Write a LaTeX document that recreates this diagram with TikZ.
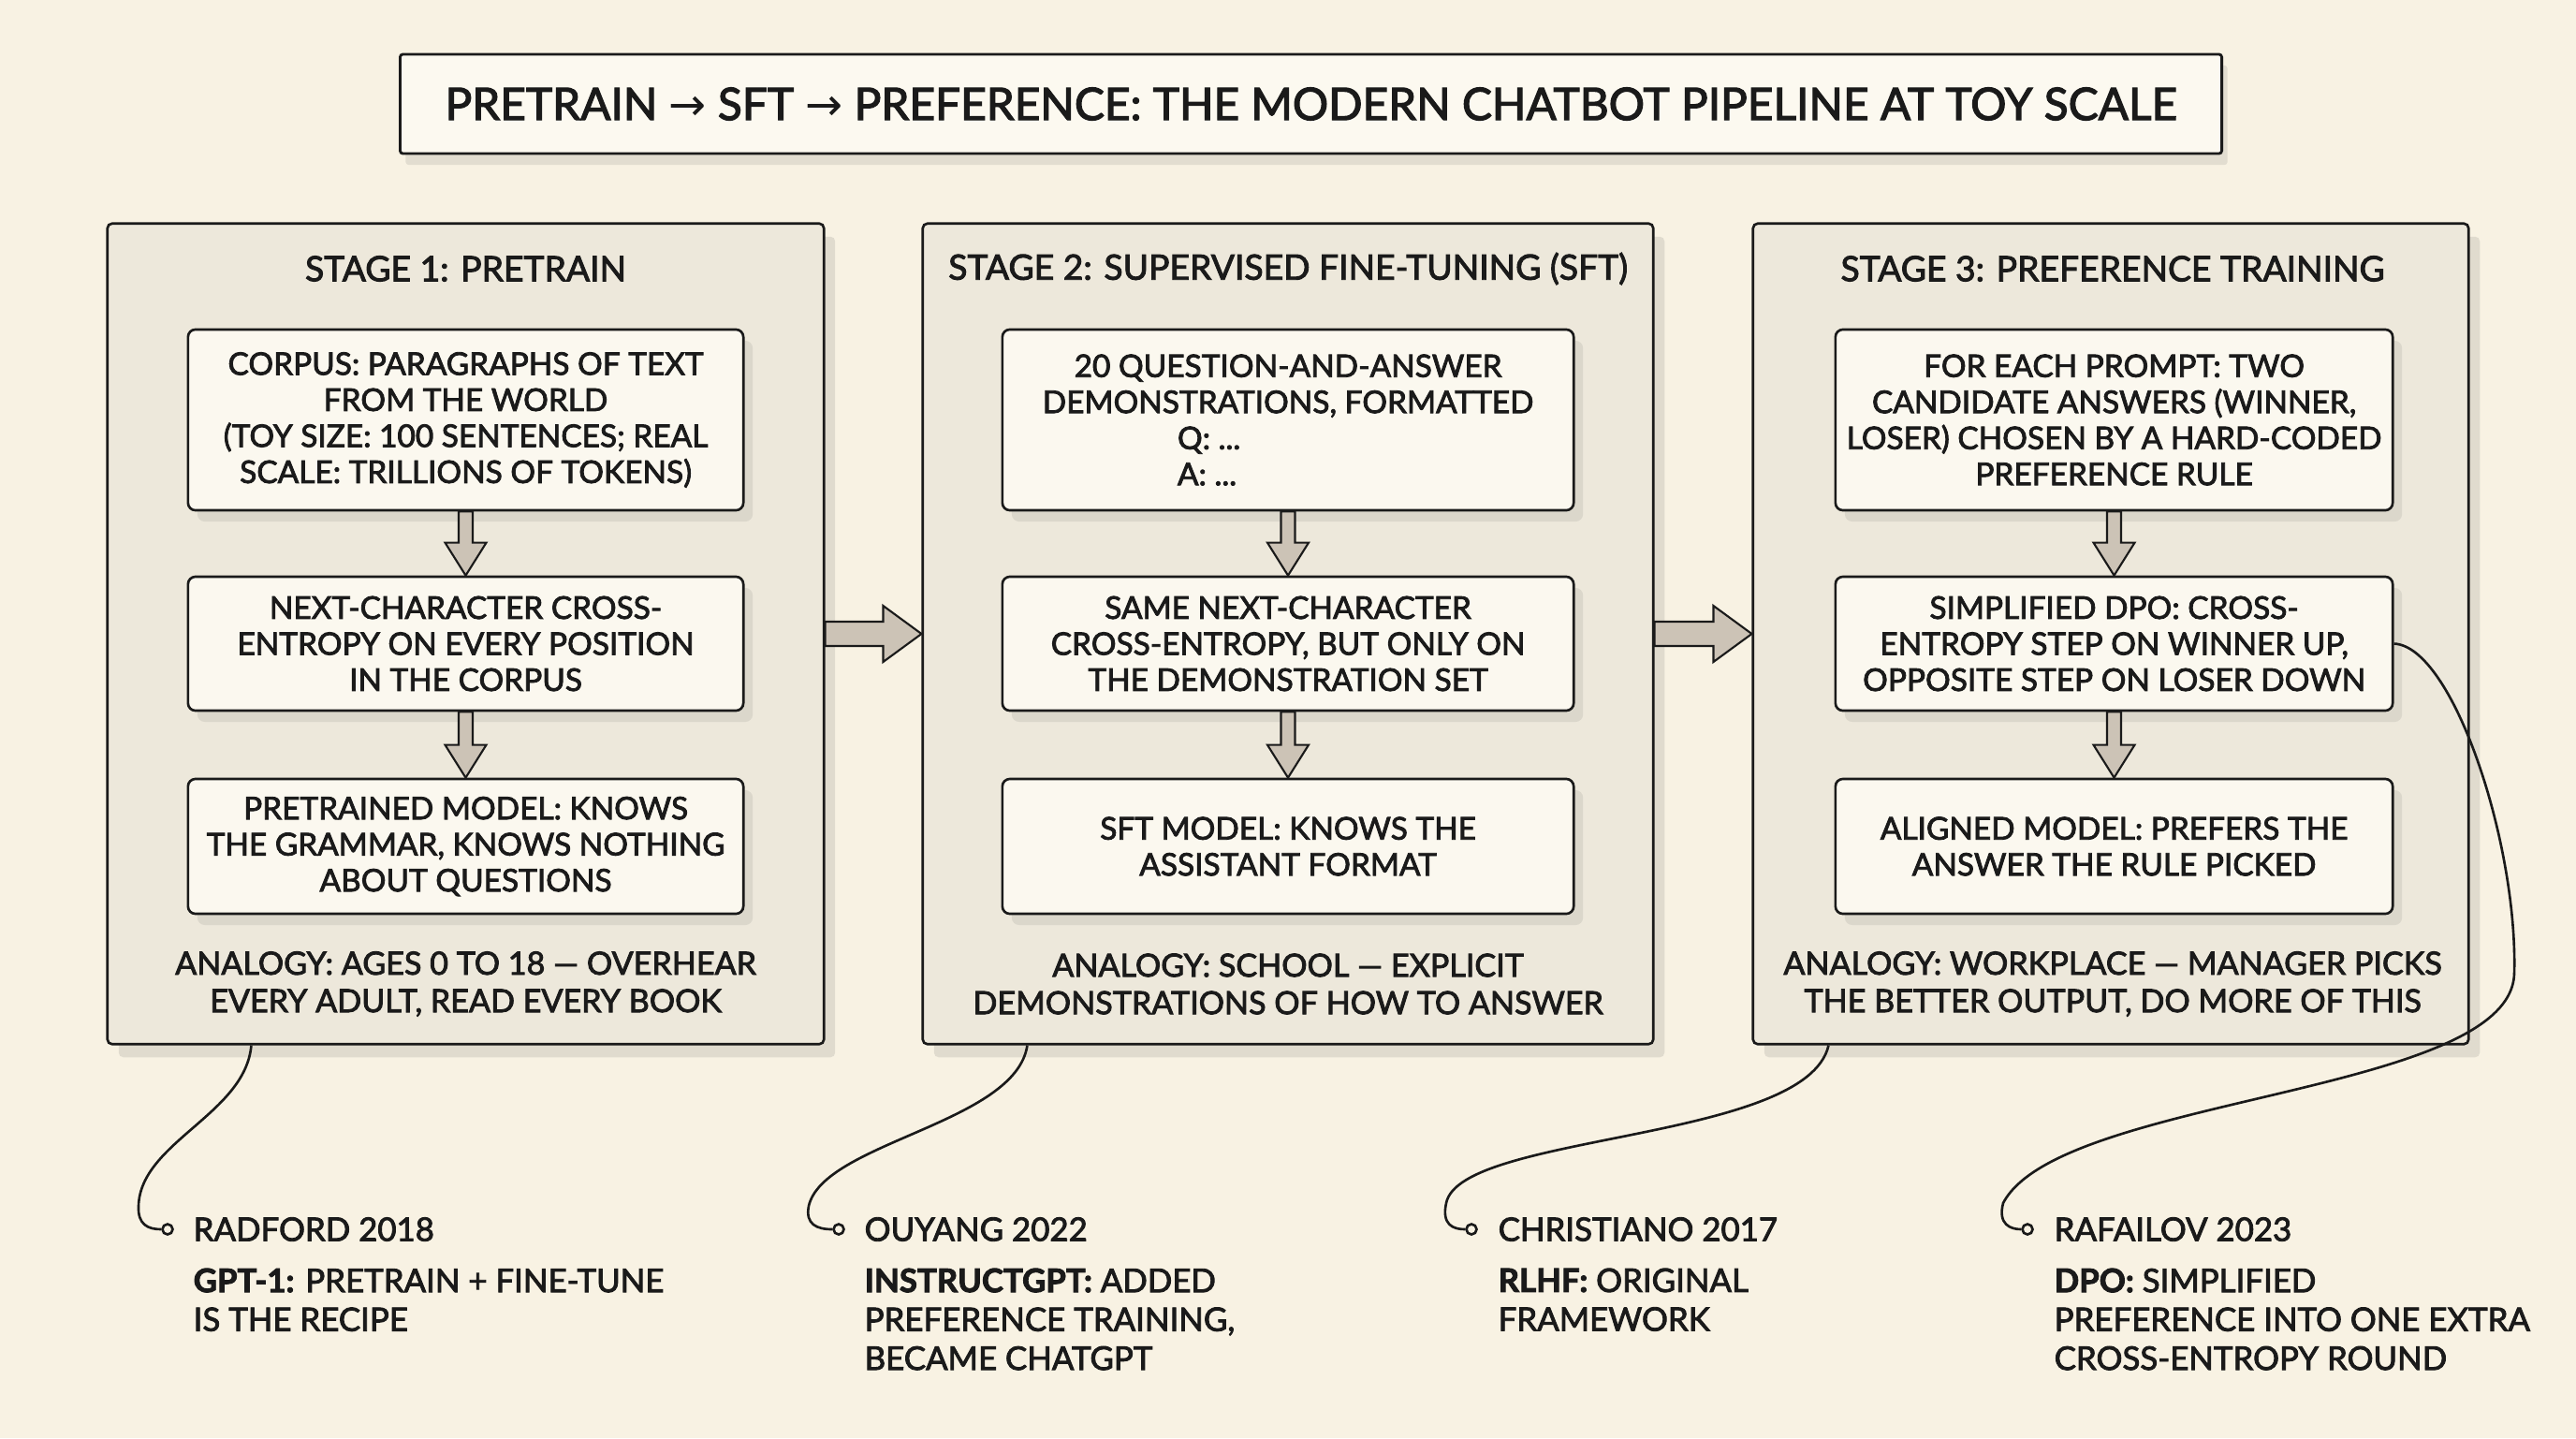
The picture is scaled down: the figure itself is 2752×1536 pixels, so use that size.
\documentclass[tikz,border=0pt]{standalone}
\usepackage{fontspec}
\setmainfont{Lato}[FakeBold=2.5]
\newfontfamily\arrowfnt{DejaVu Sans}
\usetikzlibrary{shadows,calc}
\definecolor{bg}{HTML}{F8F2E3}
\definecolor{panelfill}{HTML}{EDE8DB}
\definecolor{boxfill}{HTML}{FBF8EF}
\definecolor{titlefill}{HTML}{FCF9F0}
\definecolor{arrowfill}{HTML}{CCC3B6}
\definecolor{ink}{HTML}{1A1A1A}
\newcommand\myTitleFnt{\fontsize{13.6}{16}\selectfont}
\newcommand\myStageFnt{\fontsize{10.6}{12}\selectfont}
\newcommand\myBoxFnt{\fontsize{9.5}{10.95}\selectfont}
\newcommand\myAnaFnt{\fontsize{9.7}{11.4}\selectfont}
\newcommand\myCiteFnt{\fontsize{9.9}{11.8}\selectfont}
\newcommand\vblock[2]{\draw[blk] ($(#1.south)+(-7.5,0)$) -- ($(#1.south)+(7.5,0)$) -- ($(#2.north)+(7.5,-35)$) -- ($(#2.north)+(22,-35)$) -- (#2.north) -- ($(#2.north)+(-22,-35)$) -- ($(#2.north)+(-7.5,-35)$) -- cycle;}
\newcommand\hblock[2]{\draw[blk] ($(#1.east)+(0,-13)$) -- ($(#2.west)+(-41,-13)$) -- ($(#2.west)+(-41,-30)$) -- (#2.west) -- ($(#2.west)+(-41,30)$) -- ($(#2.west)+(-41,13)$) -- ($(#1.east)+(0,13)$) -- cycle;}
\begin{document}
\begin{tikzpicture}[x=0.01cm,y=-0.01cm,
  every node/.style={text=ink},
  titlebox/.style={draw=ink,line width=0.8pt,fill=titlefill,rounded corners=0.03cm,inner sep=0,
     minimum width=19.45cm,minimum height=1.06cm,font=\myTitleFnt,
     drop shadow={shadow xshift=0.06cm,shadow yshift=-0.12cm,opacity=0.15,fill=black!60}},
  panel/.style={draw=ink,line width=0.75pt,fill=panelfill,rounded corners=0.05cm,minimum height=8.76cm,inner sep=0,
     drop shadow={shadow xshift=0.12cm,shadow yshift=-0.14cm,opacity=0.16,fill=black!60}},
  ibox/.style={draw=ink,line width=0.75pt,fill=boxfill,rounded corners=0.08cm,inner sep=0,align=center,font=\myBoxFnt,
     drop shadow={shadow xshift=0.1cm,shadow yshift=-0.12cm,opacity=0.13,fill=black!60}},
  stagetitle/.style={inner sep=0,font=\myStageFnt},
  analogy/.style={inner sep=0,align=center,font=\myAnaFnt},
  blk/.style={draw=ink,line width=0.6pt,fill=arrowfill,line join=miter},
  lead/.style={draw=ink,line width=0.75pt},
  dot/.style={circle,draw=ink,line width=0.75pt,fill=bg,inner sep=0,minimum size=0.11cm},
  citehead/.style={inner sep=0,anchor=west,font=\myCiteFnt},
  citetext/.style={inner sep=0,anchor=north west,align=left,font=\myCiteFnt}
]
\useasboundingbox (0,0) rectangle (2752,1536);
\fill[bg] (0,0) rectangle (2752,1536);

% title
\node[titlebox] (title) at (1400.5,111) {PRETRAIN {\arrowfnt →} SFT {\arrowfnt →} PREFERENCE: THE MODERN CHATBOT PIPELINE AT TOY SCALE};

% panels
\node[panel,minimum width=7.65cm] (p1) at (497.5,677) {};
\node[panel,minimum width=7.80cm] (p2) at (1376,677) {};
\node[panel,minimum width=7.64cm] (p3) at (2255,677) {};

\hblock{p1}{p2}
\hblock{p2}{p3}

% stage titles
\node[stagetitle] (s1) at (497.5,287) {STAGE 1: PRETRAIN};
\node[stagetitle] (s2) at (1376,287) {STAGE 2: SUPERVISED FINE-TUNING (SFT)};
\node[stagetitle] (s3) at (2257,287) {STAGE 3: PREFERENCE TRAINING};

% stage 1 boxes
\node[ibox,minimum width=5.93cm,minimum height=1.93cm] (b11) at (497.5,448.5) {CORPUS: PARAGRAPHS OF TEXT\\FROM THE WORLD\\(TOY SIZE: 100 SENTENCES; REAL\\SCALE: TRILLIONS OF TOKENS)};
\node[ibox,minimum width=5.93cm,minimum height=1.43cm] (b12) at (497.5,687.5) {NEXT-CHARACTER CROSS-\\ENTROPY ON EVERY POSITION\\IN THE CORPUS};
\node[ibox,minimum width=5.93cm,minimum height=1.44cm] (b13) at (497.5,904) {PRETRAINED MODEL: KNOWS\\THE GRAMMAR, KNOWS NOTHING\\ABOUT QUESTIONS};
\vblock{b11}{b12}
\vblock{b12}{b13}
\node[analogy] (a1) at (497.5,1051) {ANALOGY: AGES 0 TO 18 — OVERHEAR\\EVERY ADULT, READ EVERY BOOK};

% stage 2 boxes
\node[ibox,minimum width=6.10cm,minimum height=1.93cm] (b21) at (1376,448.5) {20 QUESTION-AND-ANSWER\\DEMONSTRATIONS, FORMATTED\\\makebox[2.36cm][l]{Q: ...}\\\makebox[2.36cm][l]{A: ...}};
\node[ibox,minimum width=6.10cm,minimum height=1.43cm] (b22) at (1376,687.5) {SAME NEXT-CHARACTER\\CROSS-ENTROPY, BUT ONLY ON\\THE DEMONSTRATION SET};
\node[ibox,minimum width=6.10cm,minimum height=1.44cm] (b23) at (1376,904) {SFT MODEL: KNOWS THE\\ASSISTANT FORMAT};
\vblock{b21}{b22}
\vblock{b22}{b23}
\node[analogy] (a2) at (1376,1051) {ANALOGY: SCHOOL — EXPLICIT\\DEMONSTRATIONS OF HOW TO ANSWER};

% stage 3 boxes
\node[ibox,minimum width=5.95cm,minimum height=1.93cm] (b31) at (2258.5,448.5) {FOR EACH PROMPT: TWO\\CANDIDATE ANSWERS (WINNER,\\LOSER) CHOSEN BY A HARD-CODED\\PREFERENCE RULE};
\node[ibox,minimum width=5.95cm,minimum height=1.43cm] (b32) at (2258.5,687.5) {SIMPLIFIED DPO: CROSS-\\ENTROPY STEP ON WINNER UP,\\OPPOSITE STEP ON LOSER DOWN};
\node[ibox,minimum width=5.95cm,minimum height=1.44cm] (b33) at (2258.5,904) {ALIGNED MODEL: PREFERS THE\\ANSWER THE RULE PICKED};
\vblock{b31}{b32}
\vblock{b32}{b33}
\node[analogy] (a3) at (2257,1051) {ANALOGY: WORKPLACE — MANAGER PICKS\\THE BETTER OUTPUT, DO MORE OF THIS};

% citations
\node[dot] (d1) at (179,1313) {};
\node[dot] (d2) at (896,1313) {};
\node[dot] (d3) at (1572,1313) {};
\node[dot] (d4) at (2166,1313) {};

\draw[lead] ($(p1.south west)+(155,0)$) .. controls (262,1190) and (150,1220) .. (148,1288) .. controls (147,1308) and (158,1313) .. (d1.west);
\draw[lead] ($(p2.south west)+(113,0)$) .. controls (1085,1200) and (880,1220) .. (864,1288) .. controls (860,1308) and (873,1313) .. (d2.west);
\draw[lead] ($(p3.south west)+(82,0)$) .. controls (1930,1220) and (1560,1210) .. (1545,1285) .. controls (1540,1308) and (1552,1313) .. (d3.west);
\draw[lead] (b32.east) .. controls (2620,690) and (2690,900) .. (2686,1040) .. controls (2682,1170) and (2200,1170) .. (2140,1285) .. controls (2134,1308) and (2148,1313) .. (d4.west);

\node[citehead] (h1) at (206,1313) {RADFORD 2018};
\node[citetext] (t1) at (206,1354) {\textbf{GPT-1:} PRETRAIN + FINE-TUNE\\IS THE RECIPE};
\node[citehead] (h2) at (923,1313) {OUYANG 2022};
\node[citetext] (t2) at (923,1354) {\textbf{INSTRUCTGPT:} ADDED\\PREFERENCE TRAINING,\\BECAME CHATGPT};
\node[citehead] (h3) at (1600,1313) {CHRISTIANO 2017};
\node[citetext] (t3) at (1600,1354) {\textbf{RLHF:} ORIGINAL\\FRAMEWORK};
\node[citehead] (h4) at (2194,1313) {RAFAILOV 2023};
\node[citetext] (t4) at (2194,1354) {\textbf{DPO:} SIMPLIFIED\\PREFERENCE INTO ONE EXTRA\\CROSS-ENTROPY ROUND};
\end{tikzpicture}
\end{document}
